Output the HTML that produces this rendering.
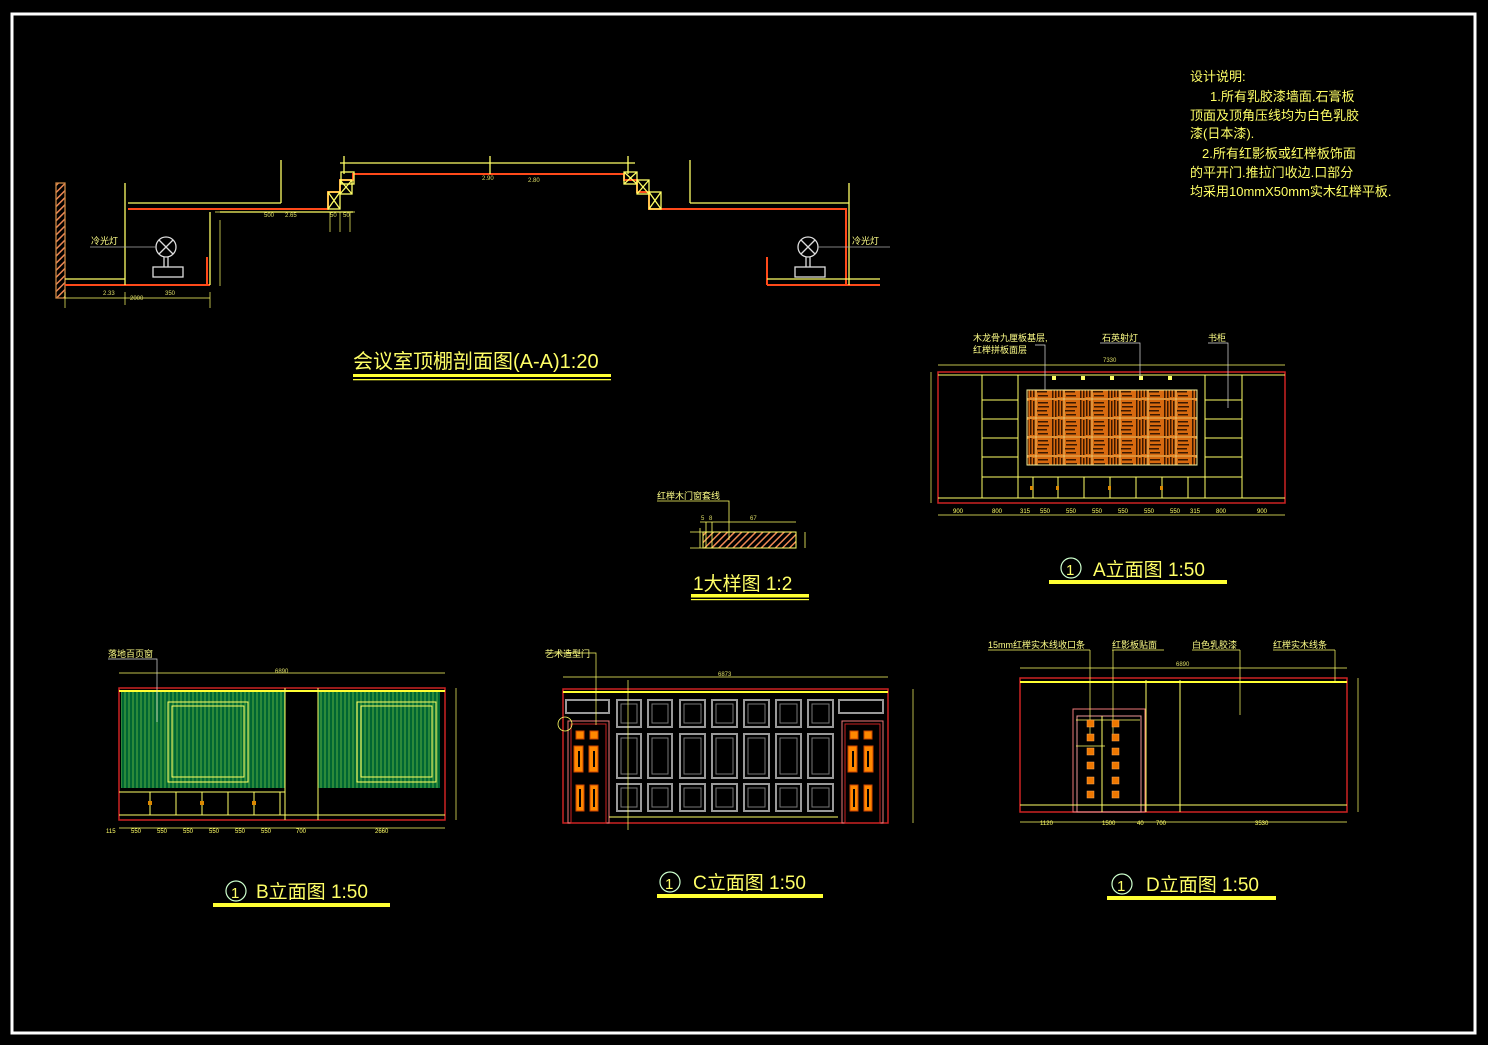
<!DOCTYPE html>
<html><head><meta charset="utf-8"><style>
html,body{margin:0;padding:0;background:#000;}
svg{display:block;}
text{font-family:"Liberation Sans","Noto Sans CJK SC",sans-serif;fill:#ffff66;}
.t{font-size:20px;}
.s{font-size:9px;fill:#ffff88;}
.d{font-size:6px;fill:#dddd66;}
</style></head><body>
<svg width="1488" height="1045" viewBox="0 0 1488 1045" xmlns="http://www.w3.org/2000/svg">
<defs>
<pattern id="grn" width="4" height="10" patternUnits="userSpaceOnUse"><rect width="4" height="10" fill="#063"/><rect x="0" width="2" height="10" fill="#2c8a3a"/></pattern>
<pattern id="hat" width="5" height="5" patternUnits="userSpaceOnUse" patternTransform="rotate(45)"><rect width="5" height="5" fill="#000"/><rect width="1.5" height="5" fill="#e85"/></pattern>
<pattern id="wood" width="28" height="19" patternUnits="userSpaceOnUse">
<rect width="28" height="19" fill="#d86a10"/>
<g fill="#3a1800"><rect x="2" y="3" width="10" height="1.5"/><rect x="2" y="7" width="11" height="1.5"/><rect x="1" y="11" width="10" height="1.5"/><rect x="2" y="15" width="10" height="1.5"/>
<rect x="16" y="1" width="1.5" height="17"/><rect x="19" y="2" width="1.5" height="16"/><rect x="22" y="1" width="1.5" height="16"/><rect x="25" y="2" width="1.5" height="15"/></g>
<rect x="0" y="0" width="28" height="19" fill="none" stroke="#ee9" stroke-width="0.6"/>
</pattern>
</defs>
<rect x="0" y="0" width="1488" height="1045" fill="#000"/>
<rect x="12" y="14" width="1463" height="1019" fill="none" stroke="#fff" stroke-width="3"/>

<!-- Top section -->
<g fill="none" stroke-width="1.3">
<rect x="56" y="183" width="9" height="115" fill="url(#hat)" stroke="#c84"/>
<path d="M65 285 H210 M207 257 V285 M128 209 H328 L328 192 L340 192 L340 180 L353 180 L353 174 H624 L624 180 L637 180 L637 192 L649 192 L649 209 H846 V285 M767 285 H880 M767 257 V285" stroke="#ff4a1a" stroke-width="2"/>
<path d="M65 279 H125 M125 183 V285 M128 203 H281 M281 160 V203 M340 163 H635 M344 156 V174 M490 156 V174 M628 156 V174 M690 160 V203 M690 203 H849 M849 183 V285 M767 279 H880 M210 212 V285 M220 212 H353" stroke="#ffff66"/>
<path d="M215 212 H355 M330 212 V232 M340 212 V232 M350 212 V232 M65 298 H210 M125 292 V305 M65 292 V308 M210 292 V308 M220 220 V286" stroke="#ffff66" stroke-width="0.7"/>
<g stroke="#ffff66"><rect x="328" y="192" width="12" height="17"/><rect x="340" y="180" width="12" height="14"/><rect x="341" y="172" width="13" height="12"/><rect x="624" y="172" width="13" height="12"/><rect x="637" y="180" width="12" height="14"/><rect x="649" y="192" width="12" height="17"/>
<path d="M328 192 L340 209 M340 192 L328 209 M340 180 L352 194 M352 180 L340 194 M624 172 L637 184 M637 172 L624 184 M637 180 L649 194 M649 180 L637 194 M649 192 L661 209 M661 192 L649 209"/></g>
<g stroke="#ddd"><circle cx="166" cy="247" r="10"/><path d="M159 240 L173 254 M173 240 L159 254"/><rect x="153" y="267" width="30" height="10"/><path d="M164 257 V267 M168 257 V267"/>
<circle cx="808" cy="247" r="10"/><path d="M801 240 L815 254 M815 240 L801 254"/><rect x="795" y="267" width="30" height="10"/><path d="M806 257 V267 M810 257 V267"/></g>
<path d="M90 247 H156 M818 247 H890" stroke="#aaa" stroke-width="0.7"/>
</g>
<text x="91" y="244" class="s">冷光灯</text>
<text x="852" y="244" class="s">冷光灯</text>
<text x="264" y="217" class="d">500</text><text x="285" y="217" class="d">2.65</text>
<text x="330" y="217" class="d">50</text><text x="343" y="217" class="d">50</text>
<text x="482" y="180" class="d">2.90</text><text x="528" y="182" class="d">2.80</text>
<text x="103" y="295" class="d">2.33</text><text x="165" y="295" class="d">350</text><text x="130" y="300" class="d">2000</text>
<text x="353" y="368" class="t">会议室顶棚剖面图(A-A)1:20</text>
<rect x="353" y="374" width="258" height="3" fill="#ffff33"/><rect x="353" y="379" width="258" height="1.3" fill="#ffff33"/>

<!-- Notes -->
<g style="font-size:13px">
<text x="1190" y="81">设计说明:</text>
<text x="1210" y="101">1.所有乳胶漆墙面.石膏板</text>
<text x="1190" y="120">顶面及顶角压线均为白色乳胶</text>
<text x="1190" y="138">漆(日本漆).</text>
<text x="1202" y="158">2.所有红影板或红榉板饰面</text>
<text x="1190" y="177">的平开门.推拉门收边.口部分</text>
<text x="1190" y="196">均采用10mmX50mm实木红榉平板.</text>
</g>

<!-- A elevation -->
<g fill="none" stroke-width="1">
<rect x="938" y="372" width="347" height="131" stroke="#c22" stroke-width="1.5"/>
<path d="M938 375 H1285 M938 498 H1285" stroke="#ffff66"/>
<rect x="982" y="375" width="36" height="123" stroke="#ffff66"/>
<rect x="1205" y="375" width="37" height="123" stroke="#ffff66"/>
<path d="M982 400 H1018 M982 419 H1018 M982 438 H1018 M982 457 H1018 M982 477 H1018 M1205 400 H1242 M1205 419 H1242 M1205 438 H1242 M1205 457 H1242 M1205 477 H1242 M1018 477 H1205 M1018 498 H1205" stroke="#ffff66"/>
<path d="M1033 477 V498 M1058 477 V498 M1084 477 V498 M1110 477 V498 M1136 477 V498 M1162 477 V498 M1188 477 V498" stroke="#ffff66"/>
<path d="M938 365 H1285 M931 372 V503 M938 515 H1285" stroke="#ffff66" stroke-width="0.7"/>
</g>
<rect x="1027" y="390" width="170" height="75" fill="url(#wood)" stroke="#ee9"/>
<g fill="#d80"><rect x="1030" y="486" width="3" height="4"/><rect x="1056" y="486" width="3" height="4"/><rect x="1108" y="486" width="3" height="4"/><rect x="1160" y="486" width="3" height="4"/></g>
<g fill="#ffff66"><rect x="1052" y="376" width="4" height="4"/><rect x="1081" y="376" width="4" height="4"/><rect x="1110" y="376" width="4" height="4"/><rect x="1139" y="376" width="4" height="4"/><rect x="1168" y="376" width="4" height="4"/></g>
<path d="M1035 345 H1045 V390 M1100 343 H1140 V378 M1208 343 H1228 V408" stroke="#ddd" stroke-width="0.7" fill="none"/>
<text x="973" y="341" class="s">木龙骨九厘板基层,</text><text x="973" y="353" class="s">红榉拼板面层</text>
<text x="1102" y="341" class="s">石英射灯</text><text x="1208" y="341" class="s">书柜</text>
<text x="1103" y="362" class="d">7330</text>
<g class="d"><text x="953" y="513">900</text><text x="992" y="513">800</text><text x="1020" y="513">315</text><text x="1040" y="513">550</text><text x="1066" y="513">550</text><text x="1092" y="513">550</text><text x="1118" y="513">550</text><text x="1144" y="513">550</text><text x="1170" y="513">550</text><text x="1190" y="513">315</text><text x="1216" y="513">800</text><text x="1257" y="513">900</text></g>
<circle cx="1071" cy="568" r="10" fill="none" stroke="#cfc" stroke-width="1.2"/><text x="1066" y="575" style="font-size:15px">1</text>
<text x="1093" y="576" style="font-size:19px">A立面图 1:50</text>
<rect x="1049" y="580" width="178" height="4" fill="#ffff33"/>

<!-- Detail -->
<g fill="none" stroke="#ffff66" stroke-width="1">
<rect x="703" y="532" width="93" height="16" fill="url(#hat)" stroke="#ffff66"/>
<path d="M657 501 H729 V540 M700 522 H796 M700 528 V548 M706 522 V548 M712 522 V548 M805 532 V548 M690 532 H703 M690 548 H703" stroke-width="0.8"/>
</g>
<text x="657" y="499" class="s">红榉木门窗套线</text>
<text x="701" y="520" class="d">5</text><text x="709" y="520" class="d">8</text><text x="750" y="520" class="d">67</text>
<text x="693" y="590" style="font-size:19px">1大样图 1:2</text>
<rect x="691" y="594" width="118" height="3.5" fill="#ffff33"/><rect x="691" y="599" width="118" height="1.2" fill="#ffff33"/>

<!-- B elevation -->
<rect x="121" y="690" width="164" height="98" fill="url(#grn)"/>
<rect x="318" y="690" width="122" height="98" fill="url(#grn)"/>
<g fill="none" stroke-width="1">
<rect x="119" y="688" width="326" height="132" stroke="#c22" stroke-width="1.5"/>
<path d="M119 691 H445" stroke="#ffff33" stroke-width="2"/>
<rect x="168" y="702" width="80" height="80" stroke="#ffff66"/><rect x="172" y="706" width="72" height="71" stroke="#ffff66"/>
<rect x="357" y="702" width="79" height="80" stroke="#ffff66"/><rect x="361" y="706" width="71" height="71" stroke="#ffff66"/>
<path d="M119 792 H285 M119 815 H445 M285 688 V820 M318 688 V820 M150 792 V815 M176 792 V815 M202 792 V815 M228 792 V815 M254 792 V815 M280 792 V815" stroke="#ffff66"/>
<path d="M119 673 H445 M456 688 V820 M119 828 H445" stroke="#ffff66" stroke-width="0.7"/>
<path d="M108 659 H157 V722" stroke="#ddd" stroke-width="0.7"/>
</g>
<g fill="#d80"><rect x="148" y="801" width="4" height="4"/><rect x="200" y="801" width="4" height="4"/><rect x="252" y="801" width="4" height="4"/></g>
<text x="108" y="657" class="s">落地百页窗</text><text x="275" y="673" class="d">6890</text>
<g class="d"><text x="106" y="833">115</text><text x="131" y="833">550</text><text x="157" y="833">550</text><text x="183" y="833">550</text><text x="209" y="833">550</text><text x="235" y="833">550</text><text x="261" y="833">550</text><text x="296" y="833">700</text><text x="375" y="833">2660</text></g>
<circle cx="236" cy="891" r="10" fill="none" stroke="#cfc" stroke-width="1.2"/><text x="231" y="898" style="font-size:15px">1</text>
<text x="256" y="898" style="font-size:19px">B立面图 1:50</text>
<rect x="213" y="903" width="177" height="4" fill="#ffff33"/>

<!-- C elevation -->
<g fill="none" stroke-width="1">
<rect x="563" y="689" width="325" height="134" stroke="#c22" stroke-width="1.5"/>
<path d="M563 692 H888" stroke="#ffff33" stroke-width="2"/>
<g stroke="#999" stroke-width="2">
<rect x="617" y="700" width="24" height="27"/><rect x="648" y="700" width="24" height="27"/><rect x="680" y="700" width="25" height="27"/><rect x="712" y="700" width="25" height="27"/><rect x="744" y="700" width="25" height="27"/><rect x="776" y="700" width="25" height="27"/><rect x="808" y="700" width="25" height="27"/>
<rect x="617" y="734" width="24" height="44"/><rect x="648" y="734" width="24" height="44"/><rect x="680" y="734" width="25" height="44"/><rect x="712" y="734" width="25" height="44"/><rect x="744" y="734" width="25" height="44"/><rect x="776" y="734" width="25" height="44"/><rect x="808" y="734" width="25" height="44"/>
<rect x="617" y="784" width="24" height="27"/><rect x="648" y="784" width="24" height="27"/><rect x="680" y="784" width="25" height="27"/><rect x="712" y="784" width="25" height="27"/><rect x="744" y="784" width="25" height="27"/><rect x="776" y="784" width="25" height="27"/><rect x="808" y="784" width="25" height="27"/>
<rect x="566" y="700" width="43" height="13"/><rect x="839" y="700" width="44" height="13"/>
</g>
<g stroke="#777" stroke-width="1"><rect x="621" y="704" width="16" height="19"/><rect x="652" y="704" width="16" height="19"/><rect x="684" y="704" width="17" height="19"/><rect x="716" y="704" width="17" height="19"/><rect x="748" y="704" width="17" height="19"/><rect x="780" y="704" width="17" height="19"/><rect x="812" y="704" width="17" height="19"/>
<rect x="621" y="738" width="16" height="36"/><rect x="652" y="738" width="16" height="36"/><rect x="684" y="738" width="17" height="36"/><rect x="716" y="738" width="17" height="36"/><rect x="748" y="738" width="17" height="36"/><rect x="780" y="738" width="17" height="36"/><rect x="812" y="738" width="17" height="36"/>
<rect x="621" y="788" width="16" height="19"/><rect x="652" y="788" width="16" height="19"/><rect x="684" y="788" width="17" height="19"/><rect x="716" y="788" width="17" height="19"/><rect x="748" y="788" width="17" height="19"/><rect x="780" y="788" width="17" height="19"/><rect x="812" y="788" width="17" height="19"/></g>
<rect x="568" y="721" width="41" height="102" stroke="#e77"/><rect x="571" y="724" width="35" height="99" stroke="#c22"/>
<rect x="842" y="721" width="41" height="102" stroke="#e77"/><rect x="845" y="724" width="35" height="99" stroke="#c22"/>
<path d="M609 817 H838" stroke="#ffff66"/>
<path d="M563 677 H888 M913 689 V823 M628 680 V830 M545 653 H596 V725" stroke="#ffff66" stroke-width="0.7"/>
<circle cx="565" cy="724" r="7" stroke="#ffff66" stroke-width="0.8"/>
</g>
<g fill="#f80" stroke="#c40">
<rect x="576" y="731" width="8" height="8"/><rect x="590" y="731" width="8" height="8"/><rect x="574" y="746" width="9" height="26"/><rect x="589" y="746" width="9" height="26"/><rect x="576" y="785" width="8" height="26"/><rect x="590" y="785" width="8" height="26"/>
<rect x="850" y="731" width="8" height="8"/><rect x="864" y="731" width="8" height="8"/><rect x="848" y="746" width="9" height="26"/><rect x="864" y="746" width="9" height="26"/><rect x="850" y="785" width="8" height="26"/><rect x="864" y="785" width="8" height="26"/>
</g>
<g fill="#000"><rect x="578" y="751" width="2" height="16"/><rect x="593" y="751" width="2" height="16"/><rect x="852" y="751" width="2" height="16"/><rect x="867" y="751" width="2" height="16"/><rect x="579" y="789" width="2" height="18"/><rect x="593" y="789" width="2" height="18"/><rect x="853" y="789" width="2" height="18"/><rect x="867" y="789" width="2" height="18"/></g>
<text x="545" y="657" class="s">艺术造型门</text><text x="718" y="676" class="d">6873</text>
<circle cx="670" cy="882" r="10" fill="none" stroke="#cfc" stroke-width="1.2"/><text x="665" y="889" style="font-size:15px">1</text>
<text x="693" y="889" style="font-size:19px">C立面图 1:50</text>
<rect x="657" y="894" width="166" height="4" fill="#ffff33"/>

<!-- D elevation -->
<g fill="none" stroke-width="1">
<rect x="1020" y="678" width="327" height="134" stroke="#c22" stroke-width="1.5"/>
<path d="M1020 682 H1347" stroke="#ffff33" stroke-width="2"/>
<rect x="1073" y="709" width="72" height="103" stroke="#e77"/>
<rect x="1077" y="716" width="64" height="96" stroke="#e99"/>
<path d="M1102 716 V812 M1146 680 V812 M1180 680 V812 M1020 805 H1347" stroke="#ffff66"/>
<path d="M1020 668 H1347 M1358 678 V812 M1020 822 H1347 M1090 650 V740 M1113 650 V740 M1240 650 V715 M1335 650 V682 M1076 720 H1140 M1076 746 H1105" stroke="#ffff66" stroke-width="0.7"/>
</g>
<g fill="#e70" stroke="#fa5" stroke-width="0.5">
<rect x="1087" y="720" width="7" height="7"/><rect x="1112" y="720" width="7" height="7"/><rect x="1087" y="734" width="7" height="7"/><rect x="1112" y="734" width="7" height="7"/><rect x="1087" y="748" width="7" height="7"/><rect x="1112" y="748" width="7" height="7"/><rect x="1087" y="762" width="7" height="7"/><rect x="1112" y="762" width="7" height="7"/><rect x="1087" y="777" width="7" height="7"/><rect x="1112" y="777" width="7" height="7"/><rect x="1087" y="791" width="7" height="7"/><rect x="1112" y="791" width="7" height="7"/>
</g>
<text x="988" y="648" class="s">15mm红榉实木线收口条</text>
<text x="1112" y="648" class="s">红影板贴面</text>
<text x="1192" y="648" class="s">白色乳胶漆</text>
<text x="1273" y="648" class="s">红榉实木线条</text>
<path d="M988 650 H1090 M1112 650 H1164 M1192 650 H1240 M1273 650 H1335" stroke="#ffff66" stroke-width="0.7"/>
<text x="1176" y="666" class="d">6890</text>
<g class="d"><text x="1040" y="825">1120</text><text x="1102" y="825">1500</text><text x="1137" y="825">40</text><text x="1156" y="825">700</text><text x="1255" y="825">3530</text></g>
<circle cx="1122" cy="884" r="10" fill="none" stroke="#cfc" stroke-width="1.2"/><text x="1117" y="891" style="font-size:15px">1</text>
<text x="1146" y="891" style="font-size:19px">D立面图 1:50</text>
<rect x="1107" y="896" width="169" height="4" fill="#ffff33"/>
</svg>
</body></html>
